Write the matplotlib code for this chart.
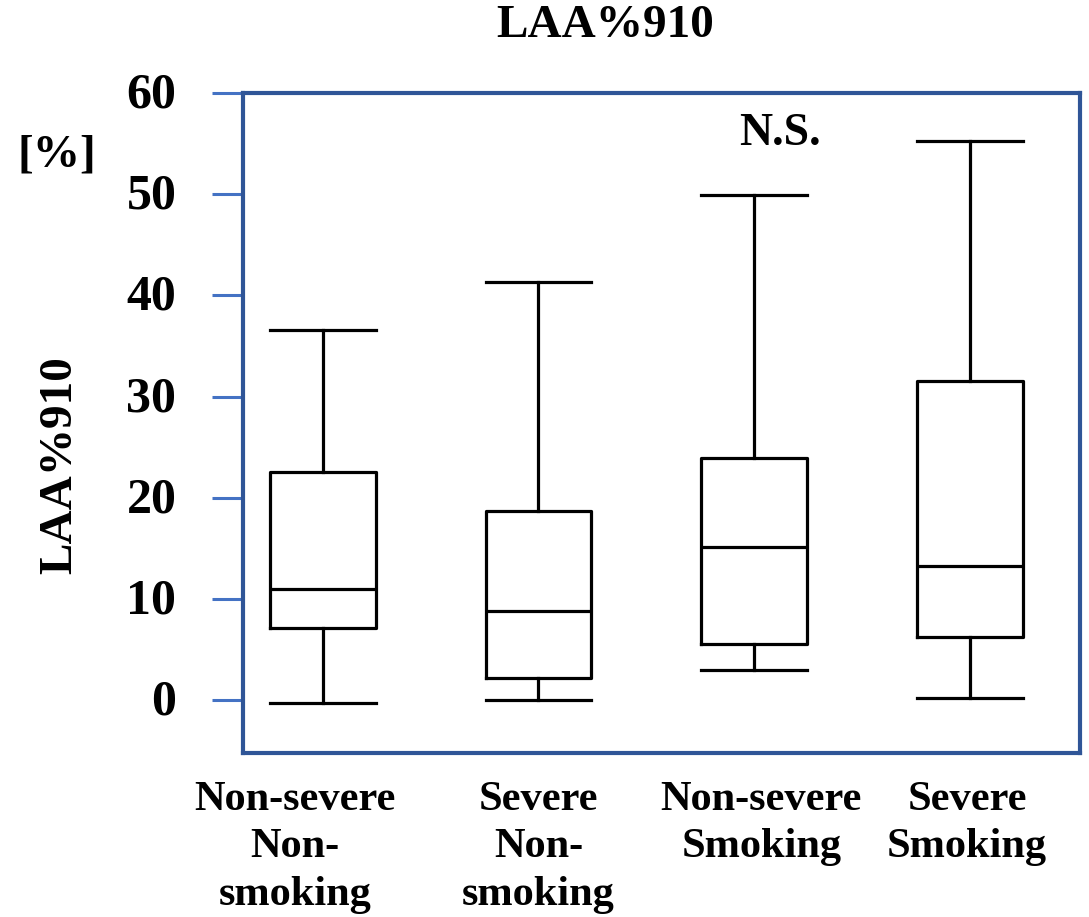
import matplotlib.pyplot as plt
import matplotlib.transforms as mtransforms

plt.rcParams['font.family'] = ['Liberation Serif', 'DejaVu Serif']
plt.rcParams['font.weight'] = 'bold'

# 数据
groups = ["Non-severe\nNon-\nsmoking", "Severe\nNon-\nsmoking",
          "Non-severe\nSmoking", "Severe\nSmoking"]
whisker_low = [-0.3, 0.0, 3.0, 0.2]
q1 = [7.1, 2.2, 5.6, 6.3]
median = [11.0, 8.8, 15.1, 13.3]
q3 = [22.6, 18.7, 23.9, 31.5]
whisker_high = [36.6, 41.3, 49.9, 55.3]
yticks = [0, 10, 20, 30, 40, 50, 60]

stats = []
for i in range(len(groups)):
    stats.append(dict(whislo=whisker_low[i], q1=q1[i], med=median[i],
                      q3=q3[i], whishi=whisker_high[i], fliers=[]))

fig = plt.figure(figsize=(10.89, 9.17), dpi=100)
ax = fig.add_axes([0.2231, 0.1789, 0.7686, 0.7197])

lw = 2.3
pos = [1, 2, 3, 4]
ax.bxp(stats, positions=pos, widths=0.49, showfliers=False,
       boxprops=dict(color='black', linewidth=lw),
       medianprops=dict(color='black', linewidth=lw),
       whiskerprops=dict(color='black', linewidth=lw),
       capprops=dict(color='black', linewidth=lw),
       capwidths=0.49)

ax.set_xlim(0.63, 4.51)
ax.set_ylim(-5.2, 60)

# 边框
for s in ax.spines.values():
    s.set_color('#2F5597')
    s.set_linewidth(3)

ax.set_yticks(yticks)
ax.set_yticklabels([str(v) for v in yticks], fontsize=36, fontweight='bold')
ax.tick_params(axis='y', length=22, width=2.2, color='#4472C4', pad=26)
for lab in ax.get_yticklabels():
    lab.set_transform(lab.get_transform() +
                      mtransforms.ScaledTranslation(0, 0.03, fig.dpi_scale_trans))

# x 标签
ax.set_xticks(pos)
ax.set_xticklabels(groups, fontsize=30.5, fontweight='bold', linespacing=1.33)
ax.tick_params(axis='x', length=0, pad=20)
shifts = [-28, 0, 7, -3]
for lab, dx in zip(ax.get_xticklabels(), shifts):
    lab.set_transform(lab.get_transform() +
                      mtransforms.ScaledTranslation(dx / 100, 0, fig.dpi_scale_trans))

fig.text(0.556, 0.972, "LAA%910", fontsize=34, fontweight='bold', ha='center', va='center')
fig.text(0.055, 0.493, "LAA%910", fontsize=34, fontweight='bold', ha='center',
         va='center', rotation=90)
fig.text(0.052, 0.83, "[%]", fontsize=34, fontweight='bold', ha='center', va='center')
ax.text(3.12, 55.9, "N.S.", fontsize=33, fontweight='bold', ha='center', va='center')

fig.savefig('out.png', dpi=100)
